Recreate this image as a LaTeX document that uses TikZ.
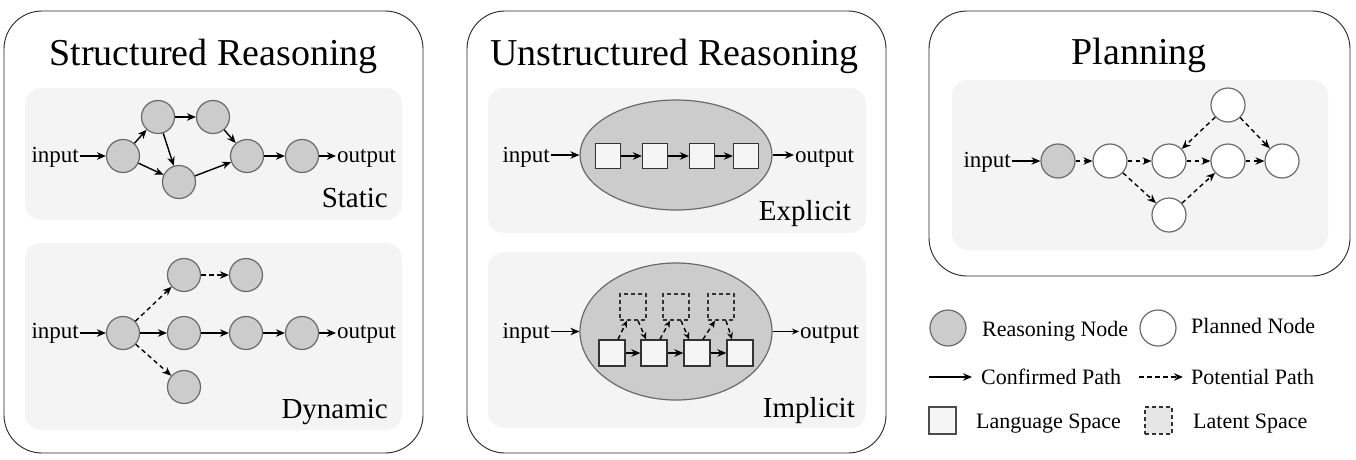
\documentclass[tikz,border=0pt]{standalone}
\usepackage{fontspec}
\setmainfont{Liberation Serif}
\usetikzlibrary{arrows.meta,shapes.geometric}
\definecolor{bgin}{HTML}{F4F4F4}
\definecolor{ngray}{HTML}{CCCCCC}
\definecolor{nbord}{HTML}{6A6A6A}
\definecolor{sqfill}{HTML}{F5F5F5}
\definecolor{latfill}{HTML}{E6E6E6}
\begin{document}
\begin{tikzpicture}[x=1pt,y=-1pt,
 panel/.style={draw=black!85, line width=0.9pt, rounded corners=38pt},
 inner/.style={fill=bgin, rounded corners=16pt},
 rnode/.style={circle, fill=ngray, draw=nbord, line width=1.2pt, minimum size=33pt, inner sep=0pt},
 pnode/.style={rnode, fill=white},
 arr/.style={-{Stealth[length=9pt,width=7.5pt]}, line width=1.4pt},
 darr/.style={arr, dash pattern=on 4.5pt off 3.5pt},
 sq/.style={rectangle, fill=sqfill, draw=black!80, line width=1.3pt, minimum size=25pt, inner sep=0pt},
 dsq/.style={sq, dash pattern=on 4pt off 3pt, fill=none},
 ell/.style={ellipse, fill=ngray, draw=nbord, line width=1.2pt, inner sep=0pt},
 ttl/.style={font=\fontsize{38}{40}\selectfont, inner sep=0pt},
 txt/.style={font=\fontsize{23}{25}\selectfont, inner sep=1pt},
 lbl/.style={font=\fontsize{29}{31}\selectfont, inner sep=0pt},
 leg/.style={font=\fontsize{22}{24}\selectfont, inner sep=0pt},
]
\useasboundingbox (0,0) rectangle (1356,459);
\fill[white] (0,0) rectangle (1356,459);

% panels
\draw[panel] (4,11) rectangle (423,453);
\draw[panel] (467,11) rectangle (886,453);
\draw[panel] (929,11) rectangle (1350,276);
\fill[inner] (25,88) rectangle (402,220);
\fill[inner] (25,243) rectangle (402,430);
\fill[inner] (488,88) rectangle (866,233);
\fill[inner] (488,252) rectangle (866,428);
\fill[inner] (952,80) rectangle (1328,250);

% titles
\node[ttl, anchor=base] (t1) at (213.5,65) {Structured Reasoning};
\node[ttl, anchor=base] (t2) at (674.5,65) {Unstructured Reasoning};
\node[ttl, anchor=base] (t3) at (1139,64) {Planning};

% ---------- Static ----------
\node[rnode] (sA) at (123,156) {};
\node[rnode] (sB) at (158,117) {};
\node[rnode] (sC) at (213,117) {};
\node[rnode] (sD) at (179,182) {};
\node[rnode] (sE) at (247,156) {};
\node[rnode] (sF) at (302,156) {};
\node[txt, anchor=base east] (sin) at (80,162) {input};
\node[txt, anchor=base west] (sout) at (336,162) {output};
\draw[arr] (sin.east |- sA) -- (sA);
\draw[arr] (sA) -- (sB);
\draw[arr] (sA) -- (sD);
\draw[arr] (sB) -- (sC);
\draw[arr] (sB) -- (sD);
\draw[arr] (sC) -- (sE);
\draw[arr] (sD) -- (sE);
\draw[arr] (sE) -- (sF);
\draw[arr] (sF) -- (sF -| sout.west);
\node[lbl, anchor=base east] (lstat) at (388,207) {Static};

% ---------- Dynamic ----------
\node[rnode] (dA) at (123,333) {};
\node[rnode] (dT1) at (184,275) {};
\node[rnode] (dT2) at (246,275) {};
\node[rnode] (dM1) at (184,333) {};
\node[rnode] (dM2) at (246,333) {};
\node[rnode] (dM3) at (302,333) {};
\node[rnode] (dB) at (184,387) {};
\node[txt, anchor=base east] (din) at (80,338) {input};
\node[txt, anchor=base west] (dout) at (336,338) {output};
\draw[arr] (din.east |- dA) -- (dA);
\draw[darr] (dA) -- (dT1);
\draw[darr] (dT1) -- (dT2);
\draw[arr] (dA) -- (dM1);
\draw[arr] (dM1) -- (dM2);
\draw[arr] (dM2) -- (dM3);
\draw[arr] (dM3) -- (dM3 -| dout.west);
\draw[darr] (dA) -- (dB);
\node[lbl, anchor=base east] (ldyn) at (388,418) {Dynamic};

% ---------- Explicit ----------
\node[ell, minimum width=192pt, minimum height=110pt] (eE) at (676,155) {};
\node[sq] (e1) at (608,156) {};
\node[sq] (e2) at (655,156) {};
\node[sq] (e3) at (702,156) {};
\node[sq] (e4) at (746,156) {};
\node[txt, anchor=base east] (ein) at (551,162) {input};
\node[txt, anchor=base west] (eout) at (794,162) {output};
\draw[arr] (ein.east |- eE) -- (eE.west);
\draw[arr] (e1) -- (e2);
\draw[arr] (e2) -- (e3);
\draw[arr] (e3) -- (e4);
\draw[arr] (eE.east) -- (eE.east -| eout.west);
\node[lbl, anchor=base east] (lexp) at (851,220) {Explicit};

% ---------- Implicit ----------
\node[ell, minimum width=192pt, minimum height=137pt] (iE) at (676,331.5) {};
\node[sq, minimum size=26pt] (i1) at (612,353) {};
\node[sq, minimum size=26pt] (i2) at (654,353) {};
\node[sq, minimum size=26pt] (i3) at (697,353) {};
\node[sq, minimum size=26pt] (i4) at (740,353) {};
\node[dsq, minimum size=26pt] (l1) at (633,307) {};
\node[dsq, minimum size=26pt] (l2) at (676,307) {};
\node[dsq, minimum size=26pt] (l3) at (721,307) {};
\node[txt, anchor=base east] (iin) at (551,338) {input};
\node[txt, anchor=base west] (iout) at (799,338) {output};
\draw[arr] (iin.east |- iE) -- (iE.west);
\draw[arr] (i1) -- (i2);
\draw[arr] (i2) -- (i3);
\draw[arr] (i3) -- (i4);
\foreach \a/\b/\c in {i1/l1/i2, i2/l2/i3, i3/l3/i4}{
  \draw[darr, -{Stealth[length=7pt,width=6pt]}] ([xshift=6pt]\a.north) -- ([xshift=-6pt]\b.south);
  \draw[darr, -{Stealth[length=7pt,width=6pt]}] ([xshift=5pt]\b.south) -- ([xshift=-8pt]\c.north);
}
\draw[-{Stealth[length=7pt,width=6pt]}, line width=0.9pt] (iE.east) -- (iE.east -| iout.west);
\node[lbl, anchor=base east] (limp) at (855,417) {Implicit};

% ---------- Planning ----------
\node[rnode, minimum size=34pt] (pA) at (1058,161) {};
\node[pnode, minimum size=34pt] (p1) at (1110,161) {};
\node[pnode, minimum size=34pt] (p2) at (1169,161) {};
\node[pnode, minimum size=34pt] (p3) at (1228,161) {};
\node[pnode, minimum size=34pt] (p4) at (1282,161) {};
\node[pnode, minimum size=34pt] (pT) at (1228,105) {};
\node[pnode, minimum size=34pt] (pB) at (1169,215) {};
\node[txt, anchor=base east] (pin) at (1012,167) {input};
\draw[arr] (pin.east |- pA) -- (pA);
\draw[darr] (pA) -- (p1);
\draw[darr] (p1) -- (p2);
\draw[darr] (p2) -- (p3);
\draw[darr] (p3) -- (p4);
\draw[darr] (pT) -- (p2);
\draw[darr] (pT) -- (p4);
\draw[darr] (p1) -- (pB);
\draw[darr] (pB) -- (p3);

% ---------- Legend ----------
\node[rnode, minimum size=36pt] (lr) at (948,328) {};
\node[leg, anchor=base west] (lrt) at (982,336) {Reasoning Node};
\node[pnode, minimum size=36pt] (lp) at (1158,328) {};
\node[leg, anchor=base west] (lpt) at (1191,333) {Planned Node};
\coordinate (lc0) at (929,377);
\coordinate (lc1) at (972,377);
\draw[arr, line width=1.2pt] (lc0) -- (lc1);
\node[leg, anchor=base west] (lct) at (981,384) {Confirmed Path};
\coordinate (ld0) at (1139,377);
\coordinate (ld1) at (1183,377);
\draw[darr, line width=1.2pt] (ld0) -- (ld1);
\node[leg, anchor=base west] (ldt) at (1191,384) {Potential Path};
\node[sq, draw=black!70, minimum size=27pt] (lls) at (942.5,420.5) {};
\node[leg, anchor=base west] (llt) at (976,428) {Language Space};
\node[dsq, fill=latfill, minimum size=27pt] (lts) at (1158.5,420.5) {};
\node[leg, anchor=base west] (ltt) at (1193,428) {Latent Space};
\end{tikzpicture}
\end{document}
